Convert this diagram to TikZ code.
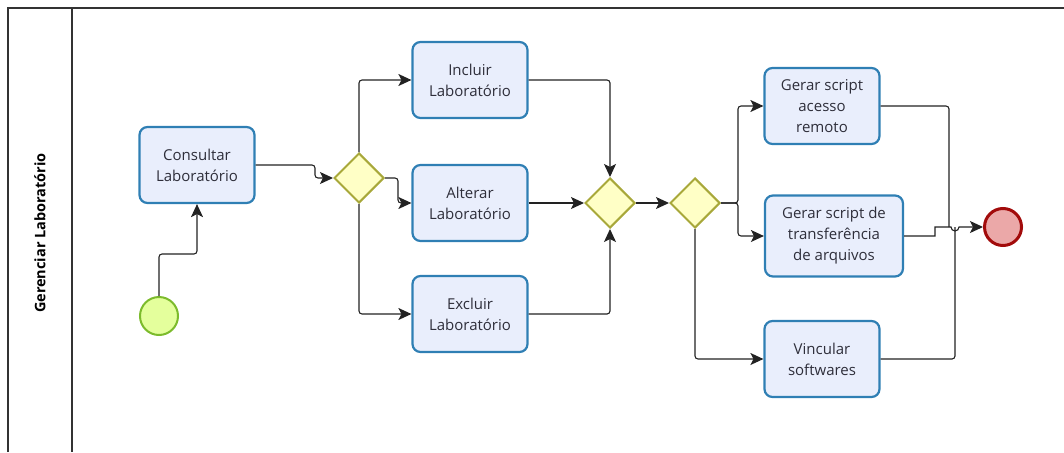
\documentclass[tikz,border=0pt]{standalone}
\usepackage{fontspec}
\setmainfont{Open Sans}
\usetikzlibrary{shapes.geometric,arrows.meta,calc}

\definecolor{taskfill}{HTML}{E9EEFC}
\definecolor{taskline}{HTML}{2F7FB4}
\definecolor{gatefill}{HTML}{FFFFC6}
\definecolor{gateline}{HTML}{A8A83A}
\definecolor{startfill}{HTML}{E4FF9C}
\definecolor{startline}{HTML}{7CBB2C}
\definecolor{endfill}{HTML}{EBA8A8}
\definecolor{endline}{HTML}{A20B0B}
\definecolor{wire}{HTML}{222222}
\definecolor{txt}{HTML}{2E2E3A}

\tikzset{
  task/.style={draw=taskline, fill=taskfill, line width=2.2pt, rounded corners=8pt,
    minimum width=115pt, minimum height=76pt, align=center, text=txt,
    font=\fontsize{15}{21}\selectfont, inner sep=2pt},
  gate/.style={draw=gateline, fill=gatefill, line width=2pt, diamond, aspect=1,
    minimum width=50pt, minimum height=50pt, inner sep=0pt},
  startev/.style={draw=startline, fill=startfill, line width=2pt, circle,
    minimum size=38pt, inner sep=0pt},
  endev/.style={draw=endline, fill=endfill, line width=3pt, circle,
    minimum size=37pt, inner sep=0pt},
  flow/.style={draw=wire, line width=1.1pt, rounded corners=3pt,
    -{Stealth[length=13pt,width=12pt,inset=3pt]}},
  plain/.style={draw=wire, line width=1.1pt, rounded corners=3pt},
  lane/.style={draw=black!80, line width=1.4pt}
}

\begin{document}
\begin{tikzpicture}[x=1pt,y=-1pt]
  \useasboundingbox (0,0) rectangle (1064,452);

  % pool and lane header
  \draw[lane] (8,452) -- (8,8) -- (1064,8);
  \draw[lane] (72,8) -- (72,452);
  \node[rotate=90, font=\bfseries\fontsize{14.5}{18}\selectfont, text=black] (lanename) at (40,233) {Gerenciar Laboratório};

  % events, tasks and gateways
  \node[startev] (start) at (159,316) {};
  \node[task] (cons) at (197,165) {Consultar\\Laboratório};
  \node[gate] (g1) at (359,178) {};
  \node[task] (inc) at (470,80) {Incluir\\Laboratório};
  \node[task] (alt) at (470,203) {Alterar\\Laboratório};
  \node[task] (exc) at (470,314) {Excluir\\Laboratório};
  \node[gate] (g2) at (610,203) {};
  \node[gate] (g3) at (695,203) {};
  \node[task] (rem) at (822,106) {Gerar script\\acesso\\remoto};
  \node[task, minimum width=138pt, minimum height=81pt] (trf) at (834,236) {Gerar script de\\transferência\\de arquivos};
  \node[task] (vin) at (822,359) {Vincular\\softwares};
  \node[endev] (end) at (1003,227) {};

  % junction points before the end event
  \coordinate (j1) at (949,227);
  \coordinate (j2) at (955,227);
  \coordinate (step) at (935,236);

  % sequence flows
  \draw[flow] (start.north) -- ++(0,-42) -| (cons.south);
  \draw[flow] (cons.east) -| ($(g1.west)+(-18,0)$) -- (g1.west);
  \draw[flow] (g1.north) |- (inc.west);
  \draw[flow] (g1.east) -- ++(13,0) |- (alt.west);
  \draw[flow] (g1.south) |- (exc.west);
  \draw[flow] (inc.east) -| (g2.north);
  \draw[flow] (alt.east) -- (g2.west);
  \draw[flow] (exc.east) -| (g2.south);
  \draw[flow] (g2.east) -- (g3.west);
  \draw[flow] (g3.east) -- ++(17,0) |- (rem.west);
  \draw[flow] (g3.east) -- ++(17,0) |- (trf.west);
  \draw[flow] (g3.south) |- (vin.west);
  \draw[plain] (rem.east) -| (j1);
  \draw[plain] (vin.east) -| (j2);
  \draw[flow, rounded corners=0pt] (trf.east) -- (step) -- (step |- j1) -- ($(j2)+(-4,0)$)
    arc[start angle=180, end angle=0, radius=4] -- (end.west);
\end{tikzpicture}
\end{document}
